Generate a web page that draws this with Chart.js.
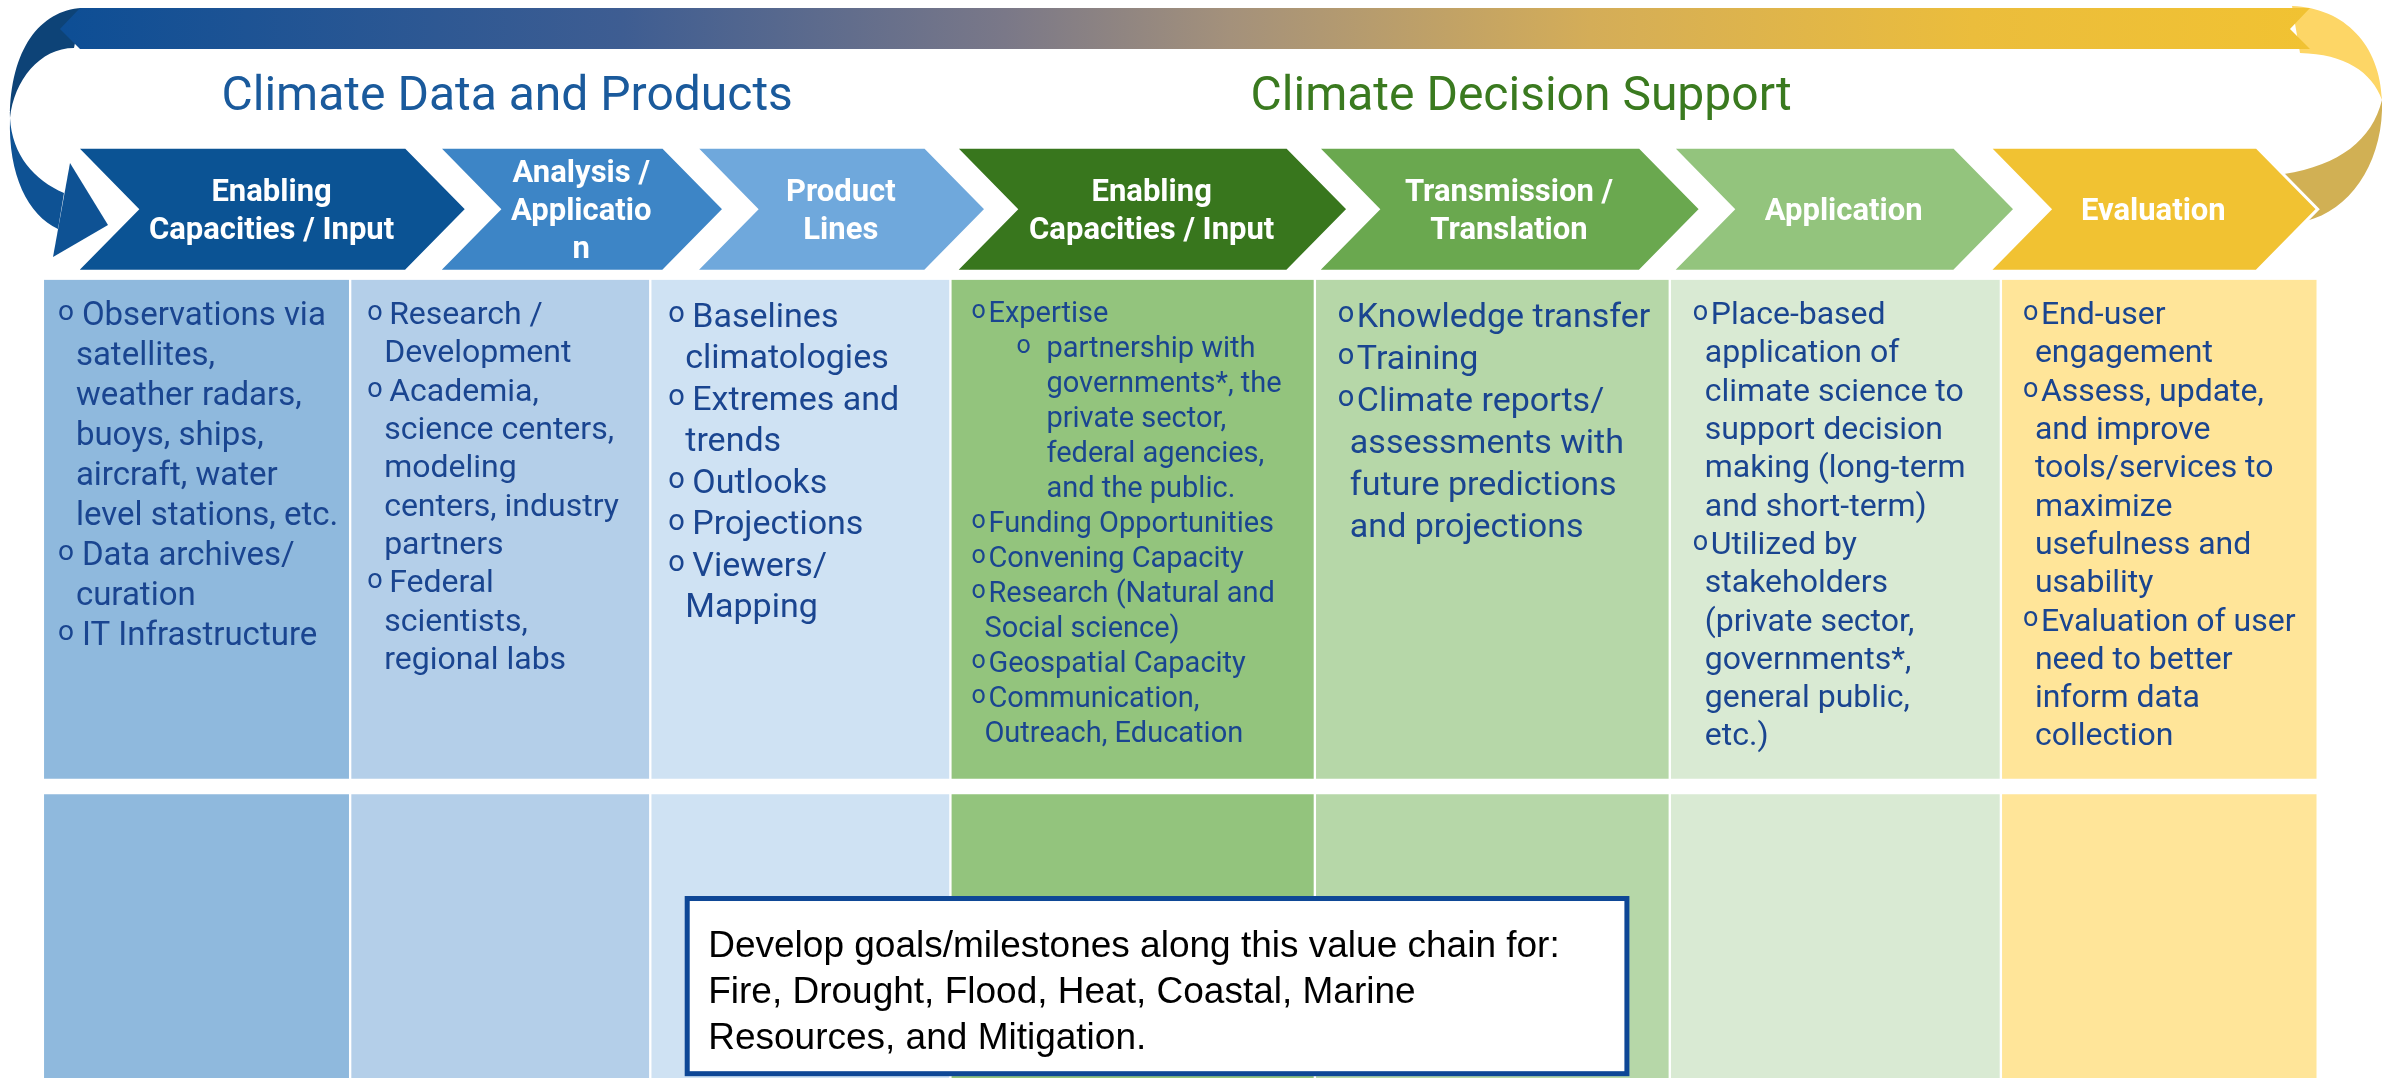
<!DOCTYPE html>
<html>
<head>
<meta charset="utf-8">
<title>Climate value chain</title>
<script src="https://cdn.jsdelivr.net/npm/chart.js@4.4.1/dist/chart.umd.min.js"></script>
<style>
 html, body { margin: 0; padding: 0; background: #fff; }
 #wrap { position: relative; width: 2382px; height: 1078px; }
</style>
</head>
<body>
<div id="wrap"><canvas id="valueChainChart"></canvas></div>
<script>
// value chain stages, left to right
var stages = [
 "Enabling Capacities / Input",
 "Analysis / Application",
 "Product Lines",
 "Enabling Capacities / Input",
 "Transmission / Translation",
 "Application",
 "Evaluation"
];
// how the chevron labels wrap in the picture
var stageLabelLines = [
 ["Enabling", "Capacities / Input"],
 ["Analysis /", "Applicatio", "n"],
 ["Product", "Lines"],
 ["Enabling", "Capacities / Input"],
 ["Transmission /", "Translation"],
 ["Application"],
 ["Evaluation"]
];
var groupTitles = ["Climate Data and Products", "Climate Decision Support"];

// extent of each stage column and chevron, in % of the page width
var columnStart = [1.8, 14.7, 27.3, 39.9, 55.2, 70.1, 84.0];
var columnEnd = [14.7, 27.3, 39.9, 55.2, 70.1, 84.0, 97.3];
var chevronStart = [3.2, 18.4, 29.2, 40.1, 55.3, 70.2, 83.5];
var chevronEnd = [19.6, 30.4, 41.4, 56.6, 71.4, 84.6, 97.3];

// row centres, in % of the page height
var headerRow = 19.4;
var detailRow = 49.1;
var goalRow = 87.4;

// bullet points of each column (each item = its wrapped lines)
var stageBullets = [
 [["Observations via", "satellites,", "weather radars,", "buoys, ships,", "aircraft, water", "level stations, etc."],
  ["Data archives/", "curation"],
  ["IT Infrastructure"]],
 [["Research /", "Development"],
  ["Academia,", "science centers,", "modeling", "centers, industry", "partners"],
  ["Federal", "scientists,", "regional labs"]],
 [["Baselines", "climatologies"],
  ["Extremes and", "trends"],
  ["Outlooks"],
  ["Projections"],
  ["Viewers/", "Mapping"]],
 [["Expertise"],
  ["partnership with", "governments*, the", "private sector,", "federal agencies,", "and the public."],
  ["Funding Opportunities"],
  ["Convening Capacity"],
  ["Research (Natural and", "Social science)"],
  ["Geospatial Capacity"],
  ["Communication,", "Outreach, Education"]],
 [["Knowledge transfer"],
  ["Training"],
  ["Climate reports/", "assessments with", "future predictions", "and projections"]],
 [["Place-based", "application of", "climate science to", "support decision", "making (long-term", "and short-term)"],
  ["Utilized by", "stakeholders", "(private sector,", "governments*,", "general public,", "etc.)"]],
 [["End-user", "engagement"],
  ["Assess, update,", "and improve", "tools/services to", "maximize", "usefulness and", "usability"],
  ["Evaluation of user", "need to better", "inform data", "collection"]]
];
// nested bullets: [stage index, item index]
var subBullets = [[3, 1]];

var goalNote = [
 "Develop goals/milestones along this value chain for:",
 "Fire, Drought, Flood, Heat, Coastal, Marine",
 "Resources, and Mitigation."
];

var chevronColors = ["#0b5394", "#3d85c6", "#6fa8dc", "#38761d", "#6aa84f", "#93c47d", "#f1c232"];
var columnColors = ["#8fb9dd", "#b4cfe9", "#cfe2f3", "#93c47d", "#b6d7a8", "#d9ead3", "#ffe599"];
var textBlue = "#1a4590";

// per column text style
var textStyle = {
 size: [33, 32, 34, 29, 34, 32, 32],
 lineH: [40, 38.3, 41.5, 35, 42, 38.3, 38.3],
 first: [33, 33, 35, 32, 35, 33, 33],
 bullet: [15, 17, 18, 21, 23, 23, 22],
 text: [39, 39, 42, 38, 42, 41, 40],
 cont: [33, 34, 35, 34, 35, 35, 34]
};

function isSub(s, k) {
 for (var n = 0; n < subBullets.length; n++) {
  if (subBullets[n][0] === s && subBullets[n][1] === k) return true;
 }
 return false;
}

function barBox(bar) {
 var p = bar.getProps(["x", "y", "base", "height"], true);
 return {
  left: Math.min(p.x, p.base),
  right: Math.max(p.x, p.base),
  top: p.y - p.height / 2,
  bottom: p.y + p.height / 2,
  mid: p.y
 };
}

var loopPlugin = {
 id: "loops",
 beforeDatasetsDraw: function (chart) {
  var ctx = chart.ctx;
  ctx.save();
  // left loop, upper twist
  ctx.fillStyle = "#0d4377";
  ctx.beginPath();
  ctx.moveTo(82, 8);
  ctx.bezierCurveTo(40, 10, 10, 50, 10, 118);
  ctx.bezierCurveTo(14, 80, 40, 48, 74, 48);
  ctx.closePath();
  ctx.fill();
  // left loop, lower part with arrow head
  ctx.fillStyle = "#0e5294";
  ctx.beginPath();
  ctx.moveTo(10, 118);
  ctx.bezierCurveTo(8, 175, 28, 215, 58, 229);
  ctx.lineTo(64, 193);
  ctx.bezierCurveTo(34, 180, 12, 155, 10, 118);
  ctx.closePath();
  ctx.fill();
  ctx.beginPath();
  ctx.moveTo(70, 163);
  ctx.lineTo(108, 225);
  ctx.lineTo(53, 257);
  ctx.closePath();
  ctx.fill();
  // right loop
  ctx.fillStyle = "#fdd666";
  ctx.beginPath();
  ctx.moveTo(2292, 6);
  ctx.bezierCurveTo(2345, 8, 2380, 45, 2382, 100);
  ctx.bezierCurveTo(2372, 72, 2345, 54, 2300, 53);
  ctx.closePath();
  ctx.fill();
  ctx.fillStyle = "#d1b054";
  ctx.beginPath();
  ctx.moveTo(2382, 100);
  ctx.bezierCurveTo(2384, 160, 2352, 210, 2306, 221);
  ctx.lineTo(2284, 174);
  ctx.bezierCurveTo(2340, 165, 2372, 140, 2382, 100);
  ctx.closePath();
  ctx.fill();
  // gradient band across the top
  var g = ctx.createLinearGradient(60, 0, 2310, 0);
  g.addColorStop(0, "#0d4e95");
  g.addColorStop(0.25, "#3e5d92");
  g.addColorStop(0.42, "#7a7888");
  g.addColorStop(0.52, "#a4917b");
  g.addColorStop(0.68, "#d4ad58");
  g.addColorStop(0.85, "#ebbd3c");
  g.addColorStop(1, "#f1c232");
  ctx.fillStyle = g;
  ctx.beginPath();
  ctx.moveTo(80, 8);
  ctx.lineTo(2310, 8);
  ctx.lineTo(2290, 29);
  ctx.lineTo(2310, 49);
  ctx.lineTo(80, 49);
  ctx.lineTo(60, 29);
  ctx.closePath();
  ctx.fill();

  // group titles
  var x = chart.scales.x, y = chart.scales.y;
  ctx.font = "48px Roboto";
  ctx.textBaseline = "alphabetic";
  ctx.textAlign = "left";
  ctx.fillStyle = "#1a5a9c";
  ctx.fillText(groupTitles[0], x.getPixelForValue(9.3), y.getPixelForValue(10.2));
  ctx.fillStyle = "#3a7a1f";
  ctx.fillText(groupTitles[1], x.getPixelForValue(52.5), y.getPixelForValue(10.2));
  ctx.restore();
 },
 afterDatasetsDraw: function (chart) {
  var ctx = chart.ctx;
  ctx.save();

  // chevrons from the header bars
  chart.getDatasetMeta(0).data.forEach(function (bar, i) {
   var b = barBox(bar);
   var depth = 61;
   ctx.beginPath();
   ctx.moveTo(b.left, b.top);
   ctx.lineTo(b.right - depth, b.top);
   ctx.lineTo(b.right, b.mid);
   ctx.lineTo(b.right - depth, b.bottom);
   ctx.lineTo(b.left, b.bottom);
   ctx.lineTo(b.left + depth, b.mid);
   ctx.closePath();
   ctx.fillStyle = chevronColors[i];
   ctx.fill();
   ctx.strokeStyle = "#ffffff";
   ctx.lineWidth = 3;
   ctx.stroke();

   var lines = stageLabelLines[i];
   ctx.fillStyle = "#ffffff";
   ctx.font = "bold 31px Roboto";
   ctx.textAlign = "center";
   ctx.textBaseline = "alphabetic";
   var cx = (b.left + b.right) / 2;
   var lh = 38;
   var y0 = b.mid - (lines.length - 1) * lh / 2 + 11;
   lines.forEach(function (t, k) {
    ctx.fillText(t, cx, y0 + k * lh);
   });
  });

  // bullet text of each column
  chart.getDatasetMeta(1).data.forEach(function (bar, s) {
   var b = barBox(bar);
   var fs = textStyle.size[s];
   var lh = textStyle.lineH[s];
   var yy = b.top + textStyle.first[s] + fs * 0.355;
   ctx.fillStyle = textBlue;
   ctx.textAlign = "left";
   ctx.textBaseline = "alphabetic";
   stageBullets[s].forEach(function (item, k) {
    var sub = isSub(s, k);
    var bx = b.left + (sub ? 66 : textStyle.bullet[s]);
    var tx = b.left + (sub ? 96 : textStyle.text[s]);
    var cx = b.left + (sub ? 96 : textStyle.cont[s]);
    ctx.font = Math.round(fs * 0.85) + "px Roboto";
    ctx.fillText("o", bx, yy - fs * 0.13);
    ctx.font = fs + "px Roboto";
    item.forEach(function (t, n) {
     ctx.fillText(t, n === 0 ? tx : cx, yy);
     yy += lh;
    });
   });
  });

  // note box over the goal row
  var x = chart.scales.x, y = chart.scales.y;
  var bl = x.getPixelForValue(28.85), br = x.getPixelForValue(68.3);
  var bt = y.getPixelForValue(83.35), bb = y.getPixelForValue(99.6);
  ctx.fillStyle = "#ffffff";
  ctx.fillRect(bl, bt, br - bl, bb - bt);
  ctx.strokeStyle = "#0e4796";
  ctx.lineWidth = 5;
  ctx.strokeRect(bl, bt, br - bl, bb - bt);
  ctx.fillStyle = "#000000";
  ctx.font = "37px 'Liberation Sans', Arial, sans-serif";
  ctx.textAlign = "left";
  goalNote.forEach(function (t, k) {
   ctx.fillText(t, bl + 21, bt + 58 + k * 46);
  });
  ctx.restore();
 }
};

function rowData(center, starts, ends) {
 return starts.map(function (s, i) {
  return { y: center, x: [s, ends[i]] };
 });
}

new Chart(document.getElementById("valueChainChart"), {
 type: "bar",
 data: {
  labels: stages,
  datasets: [
   {
    label: "Stages",
    data: rowData(headerRow, chevronStart, chevronEnd),
    backgroundColor: "rgba(0,0,0,0)",
    borderWidth: 0,
    barThickness: 124,
    grouped: false
   },
   {
    label: "Activities",
    data: rowData(detailRow, columnStart, columnEnd),
    backgroundColor: columnColors,
    borderColor: "#ffffff",
    borderWidth: { left: 1.5, right: 1.5, top: 0, bottom: 0 },
    borderSkipped: false,
    barThickness: 499,
    grouped: false
   },
   {
    label: "Goals",
    data: rowData(goalRow, columnStart, columnEnd),
    backgroundColor: columnColors,
    borderColor: "#ffffff",
    borderWidth: { left: 1.5, right: 1.5, top: 0, bottom: 0 },
    borderSkipped: false,
    barThickness: 296,
    grouped: false
   }
  ]
 },
 options: {
  indexAxis: "y",
  responsive: true,
  maintainAspectRatio: false,
  devicePixelRatio: 1,
  animation: false,
  layout: { padding: 0 },
  plugins: {
   legend: { display: false },
   tooltip: { enabled: false },
   title: { display: false }
  },
  scales: {
   x: { type: "linear", min: 0, max: 100, offset: false, display: false },
   y: { type: "linear", min: 0, max: 100, reverse: true, offset: false, display: false }
  }
 },
 plugins: [loopPlugin]
});
</script>
</body>
</html>
